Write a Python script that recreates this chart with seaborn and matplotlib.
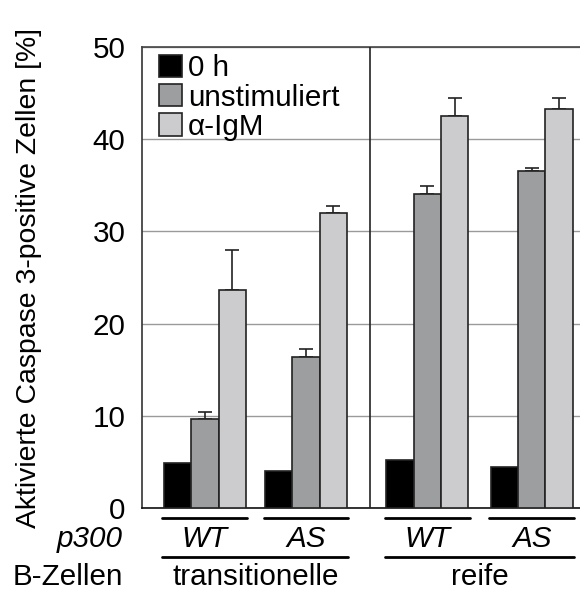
import numpy as np
import pandas as pd
import matplotlib
matplotlib.use("Agg")
import matplotlib.pyplot as plt
import matplotlib.transforms as mtransforms
from matplotlib.lines import Line2D
import seaborn as sns

# ---------------- data ----------------
conditions = ["0 h", "unstimuliert", "α-IgM"]
cell_types = ["transitionelle", "reife"]
p300 = ["WT", "AS", "WT", "AS"]
group_cell = ["transitionelle", "transitionelle", "reife", "reife"]
val_0h = [4.85, 4.0, 5.2, 4.4]
val_unstim = [9.6, 16.4, 34.1, 36.5]
val_igm = [23.6, 32.0, 42.5, 43.3]
err_0h = [0.0, 0.0, 0.0, 0.0]
err_unstim = [0.8, 0.8, 0.8, 0.4]
err_igm = [4.4, 0.8, 2.0, 1.2]
y_ticks = [0, 10, 20, 30, 40, 50]
y_label = "Aktivierte Caspase 3-positive Zellen [%]"

# ---------------- layout ----------------
group_x = [2.3, 6.0, 10.44, 14.26]   # group centres (axis units = one bar width)
divider_x = 8.34
colors = ["#000000", "#9d9ea0", "#cbccd0"]
FS = 21.3
FS_YLABEL = 20.4

sns.set_style("white")
plt.rcParams["font.family"] = ["Liberation Sans", "DejaVu Sans"]
plt.rcParams["text.color"] = "black"
plt.rcParams["axes.labelcolor"] = "black"
plt.rcParams["ytick.labelcolor"] = "black"

rows = []
for vals, cond in zip([val_0h, val_unstim, val_igm], conditions):
    for gx, v in zip(group_x, vals):
        rows.append({"x": gx, "Zeit": cond, "value": v})
df = pd.DataFrame(rows)

fig = plt.figure(figsize=(5.8, 5.9), dpi=100)
ax = fig.add_axes([142 / 580, 1 - 508 / 590, 438 / 580, 461 / 590])

min_gap = np.min(np.diff(group_x))
sns.barplot(data=df, x="x", y="value", hue="Zeit", hue_order=conditions,
            palette=colors, native_scale=True, width=3.0 / min_gap,
            edgecolor="#222222", linewidth=1.2, errorbar=None, ax=ax, zorder=3)

# error bars (upper only)
for cont, errs in zip(ax.containers, [err_0h, err_unstim, err_igm]):
    for bar, e in zip(cont.patches, errs):
        if e <= 0:
            continue
        cx = bar.get_x() + bar.get_width() / 2
        top = bar.get_height()
        ax.errorbar([cx], [top], yerr=[[0], [e]], fmt="none", ecolor="#222222",
                    elinewidth=1.2, capsize=5.3, capthick=1.2, zorder=2)

ax.set_xlim(0, 438 / 27.33)
ax.set_ylim(0, 50)
ax.set_yticks(y_ticks)
ax.set_xticks([])
ax.set_xlabel("")
ax.set_ylabel(y_label, fontsize=FS_YLABEL, color="black")
ax.yaxis.set_label_coords(-0.228, 0.5)
ax.tick_params(axis="y", direction="inout", length=16, width=1.1, pad=4,
               labelsize=FS, colors="#222222", labelcolor="black")

ax.set_axisbelow(True)
ax.yaxis.grid(True, color="#9a9a9a", linewidth=1.0)
for s in ["left", "top", "bottom"]:
    ax.spines[s].set_visible(True)
ax.spines["right"].set_visible(False)
ax.spines["left"].set_color("#333333")
ax.spines["left"].set_linewidth(1.2)
ax.spines["top"].set_color("#444444")
ax.spines["top"].set_linewidth(1.2)
ax.spines["bottom"].set_color("#111111")
ax.spines["bottom"].set_linewidth(1.2)
ax.axvline(divider_x, color="#222222", linewidth=1.2, zorder=4)

leg = ax.legend(loc="upper left", bbox_to_anchor=(0.0388, 0.984), frameon=False,
                fontsize=FS, handlelength=0.78, handleheight=0.78, handletextpad=0.2,
                labelspacing=0.04, borderpad=0, borderaxespad=0)
for t in leg.get_texts():
    t.set_color("black")

# ---------------- annotation rows below the axis ----------------
trans = mtransforms.blended_transform_factory(ax.transData, ax.transAxes)
half = 1.55
y_line1, y_text1, y_line2, y_text2 = -0.0223, -0.0846, -0.1063, -0.166
for gx, lab in zip(group_x, p300):
    ax.add_line(Line2D([gx - half, gx + half], [y_line1, y_line1], transform=trans,
                       color="black", linewidth=2.0, clip_on=False))
    ax.text(gx, y_text1, lab, transform=trans, ha="center", va="baseline",
            fontsize=FS, fontstyle="italic", color="black")
for ct in cell_types:
    xs = [gx for gx, c in zip(group_x, group_cell) if c == ct]
    x0, x1 = min(xs) - half, max(xs) + half
    ax.add_line(Line2D([x0, x1], [y_line2, y_line2], transform=trans,
                       color="black", linewidth=2.0, clip_on=False))
    ax.text((x0 + x1) / 2, y_text2, ct, transform=trans, ha="center",
            va="baseline", fontsize=FS, color="black")

ax.text(-0.0434, y_text1, "p300", transform=ax.transAxes, ha="right",
        va="baseline", fontsize=FS, fontstyle="italic", color="black")
ax.text(-0.0434, y_text2, "B-Zellen", transform=ax.transAxes, ha="right",
        va="baseline", fontsize=FS, color="black")

fig.savefig("out.png", dpi=100)
